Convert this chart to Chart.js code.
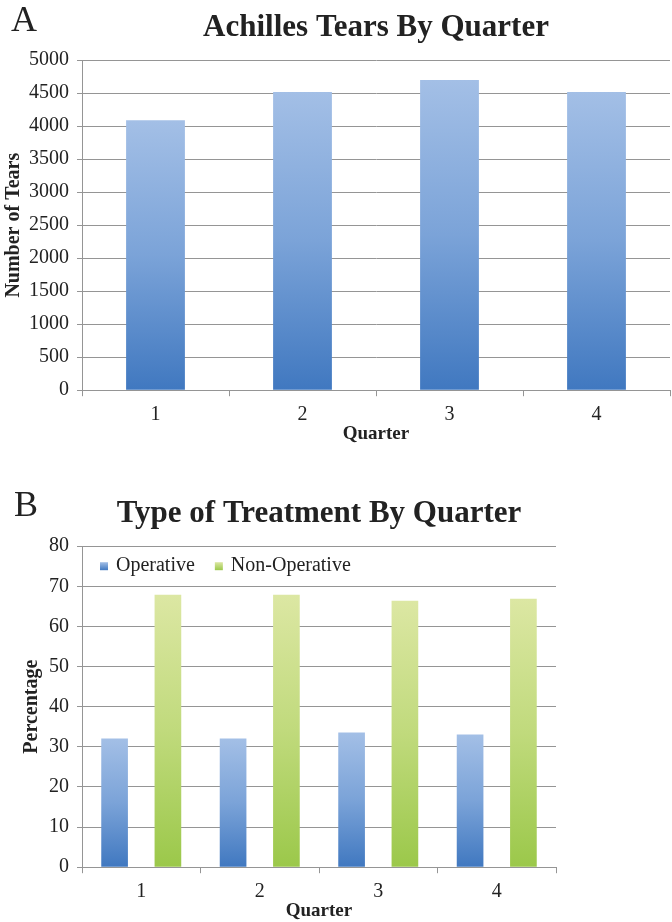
<!DOCTYPE html>
<html>
<head>
<meta charset="utf-8">
<script src="https://cdn.jsdelivr.net/npm/chart.js@4"></script>
<style>
  body { margin: 0; background: #fff; }
  #page { position: relative; width: 672px; height: 922px; }
  .panel { position: absolute; left: 0; width: 672px; }
  .tag { position: absolute; font-family: 'Liberation Serif', serif; font-size: 36px; color: #222; }
</style>
</head>
<body>
<div id="page">
  <div class="panel" style="top:0;height:450px"><canvas id="tearsChart"></canvas></div>
  <div class="panel" style="top:450px;height:472px"><canvas id="treatmentChart"></canvas></div>
  <div class="tag" style="left:11px;top:-2px">A</div>
  <div class="tag" style="left:14px;top:483px">B</div>
</div>
<script>
// Chart data
const quarters = ['1', '2', '3', '4'];
const tearCounts = [4090, 4520, 4700, 4520];
const operativePct = [32.1, 32.1, 33.6, 33.1];
const nonOperativePct = [67.9, 67.9, 66.4, 66.9];

const FONT = "'Liberation Serif', 'DejaVu Serif', serif";
const GRID = '#959595';
const TEXT = '#222';

// Vertical gradient per bar (light top, dark bottom)
function barGradient(top, mid, bottom) {
    return (c) => {
        const chart = c.chart;
        const y = chart.scales.y;
        if (!y || c.raw == null) return mid;
        const y0 = y.getPixelForValue(c.raw);
        const y1 = y.getPixelForValue(0);
        if (!isFinite(y0) || !isFinite(y1) || y0 === y1) return mid;
        const g = chart.ctx.createLinearGradient(0, y0, 0, y1);
        g.addColorStop(0, top);
        g.addColorStop(0.5, mid);
        g.addColorStop(1, bottom);
        return g;
    };
}

const BLUE = ['#a3bfe6', '#7ba3d8', '#4078c0'];
const GREEN = ['#dce7a3', '#c0da7c', '#9bc84a'];

// Legend drawn inside the plot area
const innerLegend = {
    id: 'innerLegend',
    afterDraw(chart) {
        const ctx = chart.ctx;
        const area = chart.chartArea;
        let x = area.left + 18;
        const y = area.top + 20;
        ctx.save();
        ctx.font = '20px ' + FONT;
        ctx.textBaseline = 'middle';
        chart.data.datasets.forEach((ds) => {
            const cols = ds.swatch;
            const g = ctx.createLinearGradient(0, y - 4, 0, y + 4);
            g.addColorStop(0, cols[0]);
            g.addColorStop(1, cols[2]);
            ctx.fillStyle = g;
            ctx.fillRect(x, y - 4, 8, 8);
            ctx.fillStyle = TEXT;
            ctx.fillText(ds.label, x + 16, y);
            x += 16 + ctx.measureText(ds.label).width + 20;
        });
        ctx.restore();
    }
};

function axisOptions(yMax, yStep, yTitle, yWidth, yTitlePad) {
    return {
        x: {
            grid: { offset: true, drawOnChartArea: false, drawTicks: true, tickLength: 6, color: GRID },
            border: { color: GRID },
            ticks: { color: TEXT, font: { family: FONT, size: 20 }, padding: 7 },
            title: { display: true, text: 'Quarter', color: TEXT, font: { family: FONT, size: 19, weight: 'bold' }, padding: { top: -12, bottom: 0 } }
        },
        y: {
            min: 0,
            max: yMax,
            grid: { color: GRID, tickLength: 5 },
            border: { color: GRID },
            ticks: { stepSize: yStep, color: TEXT, font: { family: FONT, size: 20 }, padding: 8, callback: (v) => String(v) },
            title: { display: true, text: yTitle, color: TEXT, font: { family: FONT, size: 20, weight: 'bold' }, padding: { top: yTitlePad, bottom: 0 } },
            afterFit(s) { s.width = yWidth; }
        }
    };
}

// Chart A
new Chart(document.getElementById('tearsChart').getContext('2d'), {
    type: 'bar',
    data: {
        labels: quarters,
        datasets: [{
            label: 'Tears',
            data: tearCounts,
            backgroundColor: barGradient(...BLUE),
            barPercentage: 0.5,
            categoryPercentage: 0.8
        }]
    },
    options: {
        responsive: true,
        maintainAspectRatio: false,
        animation: false,
        layout: { padding: { left: 0, right: 2, top: 5, bottom: 5 } },
        plugins: {
            legend: { display: false },
            tooltip: { enabled: false },
            title: {
                display: true,
                fullSize: false,
                text: 'Achilles Tears By Quarter',
                color: TEXT,
                font: { family: FONT, size: 31, weight: 'bold' },
                padding: { top: 4, bottom: 14 }
            }
        },
        scales: axisOptions(5000, 500, 'Number of Tears', 82, 2)
    }
});

// Chart B
new Chart(document.getElementById('treatmentChart').getContext('2d'), {
    type: 'bar',
    data: {
        labels: quarters,
        datasets: [
            {
                label: 'Operative',
                data: operativePct,
                backgroundColor: barGradient(...BLUE),
                swatch: BLUE,
                barPercentage: 0.5,
                categoryPercentage: 0.9
            },
            {
                label: 'Non-Operative',
                data: nonOperativePct,
                backgroundColor: barGradient(...GREEN),
                swatch: GREEN,
                barPercentage: 0.5,
                categoryPercentage: 0.9
            }
        ]
    },
    options: {
        responsive: true,
        maintainAspectRatio: false,
        animation: false,
        layout: { padding: { left: 0, right: 116, top: 45, bottom: 0 } },
        plugins: {
            legend: { display: false },
            tooltip: { enabled: false },
            title: {
                display: true,
                fullSize: false,
                text: 'Type of Treatment By Quarter',
                color: TEXT,
                font: { family: FONT, size: 31, weight: 'bold' },
                padding: { top: 0, bottom: 14 }
            }
        },
        scales: axisOptions(80, 10, 'Percentage', 82, 20)
    },
    plugins: [innerLegend]
});
</script>
</body>
</html>
